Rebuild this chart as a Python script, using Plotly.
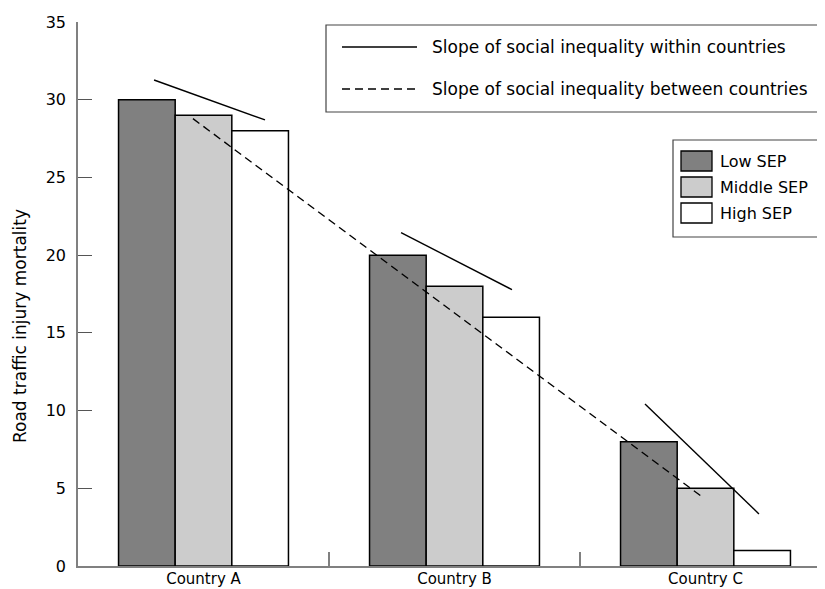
import plotly.graph_objects as go

# ---- data ----
countries = ["Country A", "Country B", "Country C"]
low_sep = [30, 20, 8]
middle_sep = [29, 18, 5]
high_sep = [28, 16, 1]

# slope lines (x in category units: 0 = Country A, 1 = B, 2 = C)
within_x = [-0.197, 0.245, None, 0.787, 1.229, None, 1.759, 2.213]
within_y = [31.27, 28.7, None, 21.45, 17.78, None, 10.42, 3.35]
between_x = [-0.042, 1.982]
between_y = [28.78, 4.5]

y_ticks = [0, 5, 10, 15, 20, 25, 30, 35]

FONT = "DejaVu Sans"
OFF = 8                     # page body margin
W, H = 825 - OFF, 589 - OFF
PLOT_L, PLOT_T, PLOT_B, PLOT_R = 78, 22, 566, 825   # in screenshot pixels
L, T = PLOT_L - OFF, PLOT_T - OFF
B = H - (PLOT_B - OFF)
R = 0
PW, PH = W - L - R, H - T - B
CAT = 251.0


def px(x):
    return (x - PLOT_L) / PW


def py(y):
    return (PLOT_B - y) / PH


xpos = list(range(len(countries)))
fig = go.Figure()
bar_line = dict(color="black", width=1.5)
fig.add_bar(x=xpos, y=low_sep, name="Low SEP", marker=dict(color="#808080", line=bar_line))
fig.add_bar(x=xpos, y=middle_sep, name="Middle SEP", marker=dict(color="#cccccc", line=bar_line))
fig.add_bar(x=xpos, y=high_sep, name="High SEP", marker=dict(color="#ffffff", line=bar_line))
fig.add_scatter(x=within_x, y=within_y, mode="lines", name="Slope of social inequality within countries",
                line=dict(color="black", width=1.4), connectgaps=False)
fig.add_scatter(x=between_x, y=between_y, mode="lines", name="Slope of social inequality between countries",
                line=dict(color="black", width=1.4, dash="8px,5px"))

shapes = []
annotations = []

# legend 1: line styles
shapes.append(dict(type="rect", xref="paper", yref="paper", x0=px(326), x1=px(840), y0=py(112), y1=py(25),
                   line=dict(color="#444", width=1.2), fillcolor="white", layer="above"))
shapes.append(dict(type="line", xref="paper", yref="paper", x0=px(342), x1=px(417), y0=py(47), y1=py(47),
                   line=dict(color="black", width=1.4)))
shapes.append(dict(type="line", xref="paper", yref="paper", x0=px(342), x1=px(417), y0=py(89), y1=py(89),
                   line=dict(color="black", width=1.4, dash="8px,5px")))
annotations.append(dict(xref="paper", yref="paper", x=px(430), y=py(47), xanchor="left", yanchor="middle",
                        text="Slope of social inequality within countries", showarrow=False,
                        font=dict(family=FONT, size=17, color="black")))
annotations.append(dict(xref="paper", yref="paper", x=px(430), y=py(89), xanchor="left", yanchor="middle",
                        text="Slope of social inequality between countries", showarrow=False,
                        font=dict(family=FONT, size=17, color="black")))

# legend 2: SEP
shapes.append(dict(type="rect", xref="paper", yref="paper", x0=px(673), x1=px(840), y0=py(237), y1=py(140),
                   line=dict(color="#444", width=1.2), fillcolor="white", layer="above"))
for i, (name, col) in enumerate([("Low SEP", "#808080"), ("Middle SEP", "#cccccc"), ("High SEP", "#ffffff")]):
    cy = 161 + 26 * i
    shapes.append(dict(type="rect", xref="paper", yref="paper", x0=px(681), x1=px(712), y0=py(cy + 10),
                       y1=py(cy - 10), line=dict(color="black", width=1.3), fillcolor=col, layer="above"))
    annotations.append(dict(xref="paper", yref="paper", x=px(718), y=py(cy), xanchor="left", yanchor="middle",
                            text=name, showarrow=False, font=dict(family=FONT, size=16, color="black")))

# y-axis title
annotations.append(dict(xref="paper", yref="paper", x=px(20), y=py(326), xanchor="center", yanchor="middle",
                        text="Road traffic injury mortality", textangle=-90, showarrow=False,
                        font=dict(family=FONT, size=17, color="black")))

fig.update_layout(
    width=W, height=H,
    margin=dict(l=L, r=R, t=T, b=B, pad=0),
    paper_bgcolor="white", plot_bgcolor="white",
    barmode="group", bargap=0.323, bargroupgap=0,
    showlegend=False,
    font=dict(family=FONT, size=15, color="black"),
    shapes=shapes, annotations=annotations,
)
fig.update_xaxes(
    range=[-0.5, -0.5 + PW / CAT],
    tickvals=xpos, ticktext=countries, ticks="",
    tickfont=dict(family=FONT, size=15, color="black"),
    showline=True, linecolor="#808080", linewidth=1.5,
    showgrid=False, zeroline=False, automargin=False, ticklabelstandoff=-2,
    minor=dict(tickvals=[0.5, 1.5], ticks="inside", ticklen=14, tickcolor="#808080", tickwidth=1.5),
)
fig.update_yaxes(
    range=[0, 35], tickvals=y_ticks, ticks="inside", ticklen=14, tickcolor="#555", tickwidth=1.3,
    tickfont=dict(family=FONT, size=16, color="black"),
    showline=True, linecolor="#808080", linewidth=1.5,
    showgrid=False, zeroline=False, ticklabelstandoff=7, automargin=False,
)

fig.write_html("out.html")
